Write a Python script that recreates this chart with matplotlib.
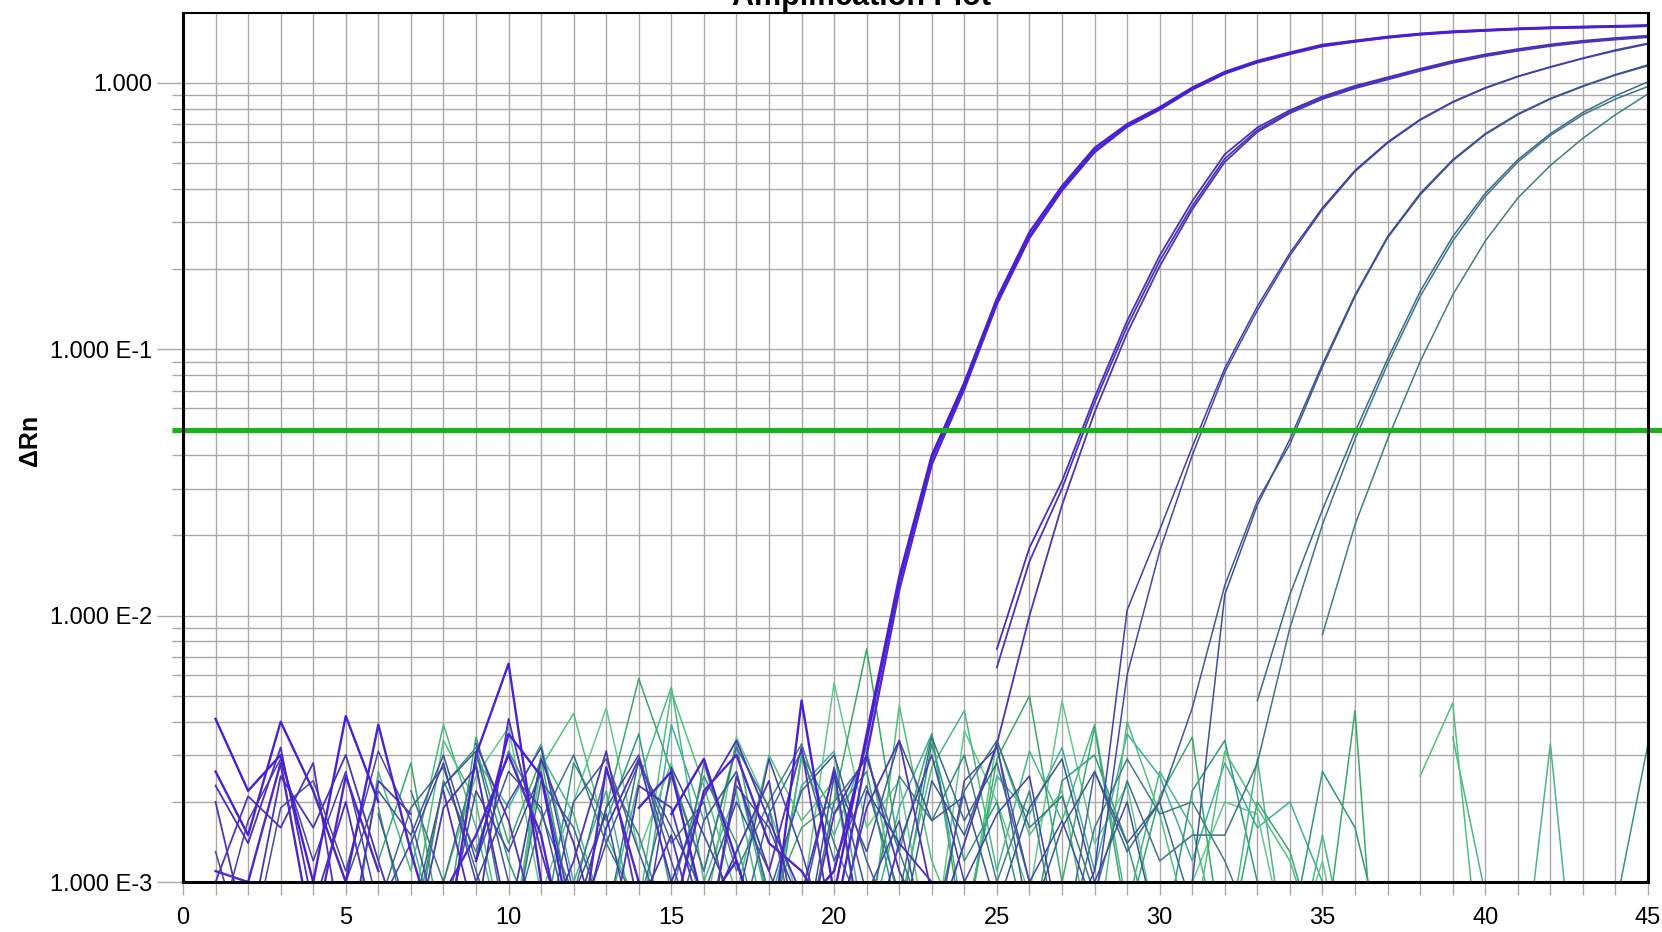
import numpy as np
import matplotlib
matplotlib.use('agg')
import matplotlib.pyplot as plt
from matplotlib.ticker import FixedLocator, NullFormatter

nan = np.nan
cycles = np.arange(1, 46)

# delta Rn per well, cycles 1..45, in units of 1e-3 (nan = no point drawn)
well_a1 = [4.1, 2.2, 3.0, 1.0, 4.2, 2.0, nan, nan, 1.2,
           3.6, 2.5, 0.6, nan, nan, 1.8, 2.9, 1.2, 0.5,
           4.8, 0.9, 3.6, 14, 40, 75, 155, 275, 410,
           570, 700, 810, 960, 1100, 1210, 1300, 1390, 1440,
           1490, 1530, 1560, 1580, 1600, 1615, 1625, 1635, 1645]
well_a2 = [2.6, 1.5, 4.0, 2.2, 1.0, 3.9, 1.3, 0.5, 3.0,
           6.6, 1.0, 0.5, nan, 1.9, 2.6, 0.8, 1.2, 0.5,
           0.8, 1.1, 3.4, 13.5, 39, 73, 150, 265, 400,
           555, 690, 800, 950, 1090, 1200, 1290, 1380, 1435,
           1485, 1525, 1555, 1575, 1595, 1610, 1620, 1630, 1640]
well_a3 = [1.1, 1.0, 2.8, 0.6, 2.5, 1.1, nan, 0.9, 1.5,
           3.0, 1.5, 0.4, 2.7, 1.0, 0.7, 2.2, 3.0, 1.4,
           1.1, 0.7, 3.0, 12.5, 37, 71, 148, 262, 395,
           550, 685, 795, 945, 1085, 1195, 1285, 1375, 1430,
           1480, 1520, 1550, 1572, 1592, 1607, 1617, 1627, 1637]
well_b1 = [2.3, 1.4, 3.2, 0.8, 2.0, 0.6, nan, 2.2, 0.7,
           4.1, 1.3, 0.5, 1.6, 2.9, 1.0, 2.1, 3.4, 1.7,
           0.9, 2.6, 0.5, 1.4, 1.0, nan, 7.5, 18, 32,
           66, 128, 225, 360, 540, 680, 790, 890, 975,
           1050, 1130, 1210, 1280, 1340, 1395, 1440, 1475, 1505]
well_b2 = [1.0, 2.1, 1.6, 2.8, 0.5, 2.4, 1.8, nan, 3.3,
           1.7, 0.6, 1.2, 3.1, 0.8, 1.5, 0.5, 2.5, 1.1,
           3.2, 0.6, 1.9, 3.4, 0.9, nan, 6.4, 16, 30,
           63, 122, 215, 345, 520, 665, 780, 880, 965,
           1040, 1120, 1200, 1270, 1330, 1385, 1430, 1465, 1495]
well_b3 = [2.0, 0.6, 2.5, 1.6, 3.0, 1.2, 0.5, 1.9, 2.7,
           0.7, 2.9, 1.4, 0.5, 2.3, 1.9, 0.7, 1.3, 2.4,
           0.5, 1.8, 3.0, 1.1, 0.6, 1.4, 3.3, 10, 26,
           58, 115, 205, 335, 505, 655, 770, 870, 955,
           1030, 1110, 1190, 1260, 1320, 1375, 1420, 1455, 1485]
well_c1 = [0.6, 1.7, 2.9, 1.2, 2.6, 0.8, 1.4, 2.8, 1.0,
           2.0, 3.2, 0.9, 1.8, 0.5, 2.7, 1.5, 0.8, 2.9,
           1.3, 0.5, 2.2, 1.4, 3.0, 1.0, 1.8, 2.5, 0.6,
           1.1, 10.5, 21, 43, 85, 145, 230, 340, 470,
           600, 730, 850, 960, 1060, 1150, 1240, 1330, 1410]
well_c2 = [1.3, 0.5, 1.9, 2.4, 1.1, 3.1, 1.7, 0.6, 2.2,
           1.3, 2.6, 0.7, 1.9, 3.0, 1.2, 0.5, 2.3, 1.6,
           0.8, 2.7, 0.9, 1.7, 0.5, 2.4, 3.2, 1.0, 1.7,
           0.8, 6.0, 17.5, 40, 82, 140, 225, 335, 465,
           595, 725, 845, 955, 1055, 1145, 1235, 1320, 1400]
well_d1 = [nan, nan, nan, nan, 1.0, 2.2, 1.5, 3.0, 1.2,
           2.6, 1.9, 0.6, 1.4, 2.8, 1.6, 0.9, 2.0, 1.1,
           0.5, 2.5, 1.3, 3.4, 1.7, 2.1, 0.8, 1.9, 2.9,
           1.0, 2.0, 0.6, 1.0, 12, 26, 46, 88, 160,
           265, 385, 515, 645, 765, 875, 975, 1075, 1170]
well_d2 = [nan, nan, nan, nan, nan, 1.8, 0.7, 2.3, 3.1,
           1.0, 0.5, 2.0, 2.9, 1.3, 0.6, 1.7, 2.6, 0.9,
           2.2, 3.0, 1.2, 0.6, 2.4, 1.5, 3.3, 0.7, 1.6,
           2.6, 1.4, 2.0, 4.5, 13, 27, 44, 86, 158,
           262, 380, 510, 640, 760, 870, 970, 1070, 1160]
well_e1 = [nan, nan, nan, nan, nan, 0.8, 1.9, 2.7, 1.1,
           0.5, 2.4, 1.6, 0.7, 2.9, 1.4, 2.0, 0.6, 1.8,
           3.1, 1.2, 2.3, 0.9, 3.5, 1.7, 2.8, 1.0, 0.5,
           2.6, 1.3, 2.0, 0.8, nan, 4.8, 12, 25, 49,
           92, 165, 265, 385, 515, 645, 775, 895, 1010]
well_e2 = [nan, nan, nan, nan, nan, nan, 2.2, 1.0, 2.8,
           0.6, 1.7, 3.0, 1.4, 0.8, 2.5, 1.1, 3.2, 1.9,
           0.5, 2.0, 2.9, 1.3, 0.6, 2.2, 3.4, 1.6, 2.1,
           0.9, 2.4, 1.2, 1.5, 1.5, 2.8, 9, 22, 46,
           88, 158, 255, 375, 505, 635, 760, 870, 970]
well_e3 = [nan, nan, nan, nan, nan, nan, 0.5, 2.4, 1.3,
           3.1, 1.8, 0.9, 2.6, 1.5, 0.6, 2.8, 1.1, 2.0,
           3.3, 1.4, 0.7, 2.5, 1.7, 3.0, 1.0, 2.2, 0.5,
           1.6, 2.9, 1.8, 2.0, 1.2, 0.6, nan, 8.5, 22,
           46, 90, 160, 255, 370, 490, 620, 760, 910]
well_n1 = [nan, nan, nan, nan, nan, 1.2, 2.8, 0.6, 3.5,
           1.4, 2.9, 0.7, 1.9, 5.8, 2.6, 1.1, 3.3, 0.8,
           1.6, 2.0, 7.5, 1.3, 3.6, 0.6, 2.9, 5.0, 1.0,
           3.8, 0.7, 2.1, 3.5, 0.5, 2.0, 1.3, 0.5, 4.4,
           0.1, nan, nan, nan, nan, nan, nan, nan, nan]
well_n2 = [nan, nan, nan, nan, nan, nan, 0.7, 3.4, 2.0,
           0.5, 2.7, 4.3, 1.5, 0.8, 5.2, 2.3, 0.9, 3.0,
           1.7, 2.4, 0.5, 4.6, 1.2, 0.6, 3.4, 1.5, 2.2,
           0.5, 4.0, 1.8, 0.6, 3.1, 1.9, 1.2, 0.5, nan,
           nan, 2.5, 4.7, 0.3, nan, nan, nan, nan, nan]
well_n3 = [nan, nan, nan, nan, 0.4, 2.6, 1.1, 3.9, 1.6,
           0.5, 3.0, 1.8, 0.7, 2.4, 5.4, 1.0, 2.2, 0.6,
           2.9, 1.5, 3.2, 0.8, 2.7, 4.4, 1.1, 3.1, 1.7,
           3.9, 0.8, 2.6, 1.6, 0.5, 2.9, 0.4, 1.5, 0.4,
           nan, nan, 3.5, 0.9, 0.3, 3.3, 0.2, nan, nan]
well_n4 = [nan, nan, nan, nan, nan, 1.9, 0.6, 2.3, 3.2,
           1.2, 0.6, 2.8, 1.7, 3.6, 0.9, 2.5, 1.4, 0.5,
           3.0, 1.8, 2.6, 0.7, 3.3, 1.2, 2.0, 0.6, 2.4,
           3.0, 1.4, 0.5, 2.2, 3.4, 1.0, 0.6, 2.6, 1.6,
           0.5, nan, nan, nan, nan, nan, nan, 0.8, 3.3]
well_n5 = [nan, nan, nan, nan, nan, nan, nan, 1.0, 2.5,
           3.8, 0.9, 2.0, 4.5, 1.3, 2.8, 0.7, 3.5, 1.9,
           0.8, 5.6, 1.6, 2.4, 0.5, 3.7, 2.0, 0.9, 4.8,
           1.4, 2.3, 0.6, 1.0, 2.0, 1.8, 0.5, 1.2, 0.3,
           nan, nan, nan, nan, nan, nan, nan, nan, nan]
well_n6 = [nan, nan, nan, nan, nan, nan, 1.5, 0.5, 2.9,
           1.9, 3.3, 1.0, 2.2, 0.6, 3.9, 1.7, 2.6, 0.8,
           2.3, 3.1, 0.6, 1.9, 3.6, 0.7, 2.5, 1.8, 3.2,
           1.1, 3.6, 2.5, 1.2, 2.8, 1.6, 2.0, 1.0, 0.4,
           nan, nan, nan, nan, nan, nan, nan, nan, nan]

wells = [well_n6, well_n5, well_n4, well_n3, well_n2, well_n1,
         well_e3, well_e2, well_e1, well_d2, well_d1, well_c2, well_c1,
         well_b3, well_b2, well_b1, well_a3, well_a2, well_a1]
colors = ['#3fae9a', '#62c98a', '#2f9a78', '#49b884', '#4fc27a', '#3aa86a',
          '#3e8080', '#3d7488', '#3b6a8c', '#3e5a92', '#3c5296', '#4448a4', '#4040aa',
          '#4838b0', '#4f34b8', '#4a2ec0', '#5128c8', '#4b22cc', '#4a1ed6']
widths = [1.1] * 13 + [1.3] * 3 + [1.7] * 3

threshold = 0.05
ytick_vals = [1e-3, 1e-2, 1e-1, 1.0]
ytick_labels = ['1.000 E-3', '1.000 E-2', '1.000 E-1', '1.000']

plt.rcParams['font.family'] = ['Liberation Sans', 'DejaVu Sans']

fig = plt.figure(figsize=(16.62, 9.32), dpi=100)
ax = fig.add_axes([0.1101, 0.0536, 0.8815, 0.9324])

for vals, c, w in zip(wells, colors, widths):
    ax.plot(cycles, np.array(vals) * 1e-3, color=c, lw=w, zorder=3)

# threshold line runs a bit past the axes on both sides
ax.plot([-0.35, 46], [threshold, threshold], color='#19b219', lw=3.8,
        clip_on=False, zorder=5, solid_capstyle='butt')

ax.set_yscale('log')
ax.set_xlim(0, 45)
ax.set_ylim(1e-3, 1.83)

ax.xaxis.set_major_locator(FixedLocator(list(range(0, 46, 5))))
ax.xaxis.set_minor_locator(FixedLocator(list(range(0, 46))))
ax.set_yticks(ytick_vals)
ax.set_yticklabels(ytick_labels)
minor_y = [m * 10.0 ** e for e in range(-3, 1) for m in range(2, 10)]
ax.yaxis.set_minor_locator(FixedLocator(minor_y))
ax.yaxis.set_minor_formatter(NullFormatter())

ax.grid(which='both', color='#a9a9a9', lw=1.0, zorder=0)
ax.set_axisbelow(True)
ax.tick_params(axis='x', which='both', length=9, color='#a9a9a9', width=1,
               labelsize=17, pad=9)
ax.tick_params(axis='y', which='major', length=19, color='#a9a9a9', width=1,
               labelsize=17, pad=3)
ax.tick_params(axis='y', which='minor', length=8, color='#a9a9a9', width=1)

for side in ['left', 'bottom', 'right']:
    ax.spines[side].set_linewidth(2.2)
ax.spines['top'].set_linewidth(1.5)
for sp in ax.spines.values():
    sp.set_color('black')
    sp.set_zorder(6)

fig.text(861 / 1662, 1 - 5 / 932, 'Amplification Plot', ha='center', va='baseline',
         fontsize=22, fontweight='bold')
fig.text(30 / 1662, 1 - 440 / 932, 'ΔRn', rotation=90, ha='center', va='center',
         fontsize=18, fontweight='bold')

fig.savefig('out.png', dpi=100)
